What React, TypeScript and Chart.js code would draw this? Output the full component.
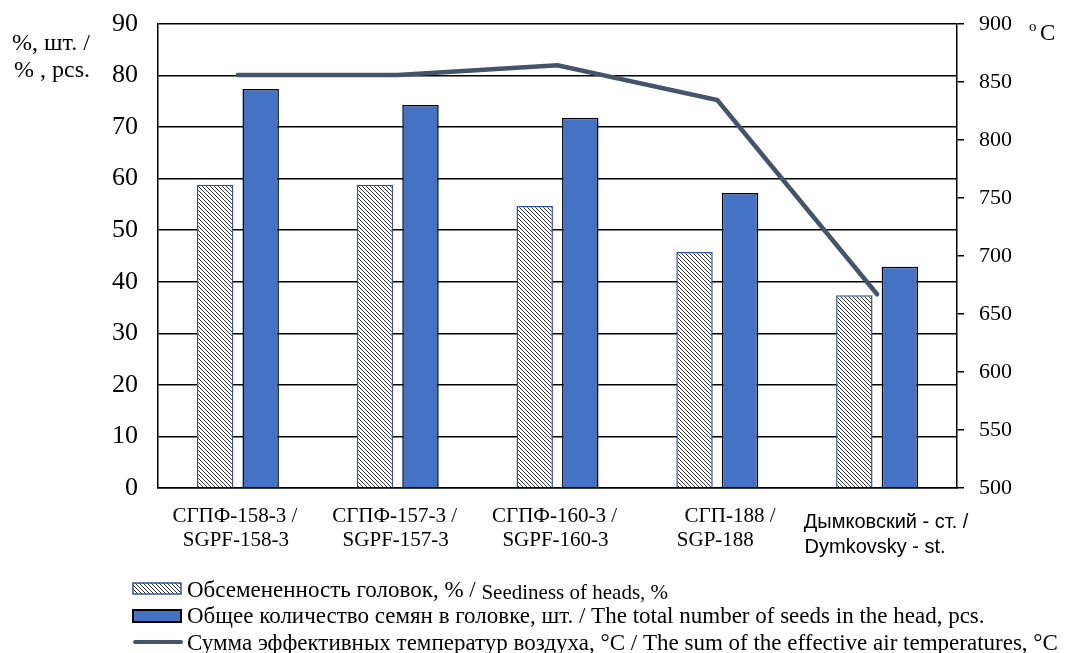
import React, { useEffect, useRef } from 'react';
import { Chart, registerables } from 'chart.js';

Chart.register(...registerables);

// ---- data ----
const labelLine1 = ['СГПФ-158-3 /', 'СГПФ-157-3 /', 'СГПФ-160-3 /', '      СГП-188 /', 'Дымковский - ст. /'];
const labelLine2 = ['SGPF-158-3', 'SGPF-157-3', 'SGPF-160-3', 'SGP-188', 'Dymkovsky - st.'];
const seediness = [58.8, 58.8, 54.7, 45.8, 37.4];
const seedsTotal = [77.4, 74.3, 71.8, 57.2, 42.9];
const effTemps = [856, 856, 864.5, 834.5, 667];
const leftAxis = { min: 0, max: 90, step: 10 };
const rightAxis = { min: 500, max: 900, step: 50 };
const leftTitle = ['%, шт. /', '% , pcs.'];
const rightUnit = ['o', 'C'];
const legendRu = ['Обсемененность головок, % / ', 'Общее количество семян в головке, шт. / ', 'Сумма эффективных температур воздуха, °C / '];
const legendEn = ['Seediness of heads, %', 'The total number of seeds in the head, pcs.', 'The sum of the effective air temperatures, °C'];

const SERIF = '"Liberation Serif", "Times New Roman", serif';
const SANS = '"Liberation Sans", Arial, sans-serif';
const SANS_LABEL_INDEX = 4;

function makeHatch(): CanvasPattern | string {
  const c = document.createElement('canvas');
  c.width = 4;
  c.height = 4;
  const g = c.getContext('2d');
  if (!g) return '#fff';
  g.fillStyle = '#ffffff';
  g.fillRect(0, 0, 4, 4);
  g.fillStyle = '#333333';
  for (let i = 0; i < 4; i++) g.fillRect(i, i, 1, 1);
  const p = g.createPattern(c, 'repeat');
  return p || '#fff';
}

const overlayPlugin = {
  id: 'overlay',
  afterDraw(chart: any) {
    const ctx = chart.ctx as CanvasRenderingContext2D;
    const x = chart.scales.x;
    ctx.save();
    ctx.fillStyle = '#000';
    ctx.textBaseline = 'alphabetic';

    // left axis title
    ctx.font = `24px ${SERIF}`;
    ctx.textAlign = 'left';
    ctx.fillText(leftTitle[0], 12, 50);
    ctx.fillText(leftTitle[1], 14, 77);

    // right unit
    ctx.font = `15px ${SERIF}`;
    ctx.fillText(rightUnit[0], 1029, 31);
    ctx.font = `23px ${SERIF}`;
    ctx.fillText(rightUnit[1], 1040, 40);

    // category labels
    ctx.textAlign = 'center';
    for (let i = 0; i < labelLine1.length; i++) {
      const cx = x.getPixelForValue(i);
      if (i === SANS_LABEL_INDEX) {
        ctx.font = `20px ${SANS}`;
        ctx.fillText(labelLine1[i], cx + 9, 528);
        ctx.fillText(labelLine2[i], cx - 2, 553);
      } else {
        ctx.font = `21px ${SERIF}`;
        ctx.fillText(labelLine1[i], cx - 3, 522);
        ctx.fillText(labelLine2[i], cx - 2, 546);
      }
    }

    // legend
    ctx.textAlign = 'left';
    const sx = 133, sw = 48, tx = 187;
    const pat = chart.data.datasets[0].backgroundColor;
    ctx.fillStyle = pat;
    ctx.fillRect(sx, 583, sw, 11);
    ctx.strokeStyle = '#2F5597';
    ctx.lineWidth = 1.5;
    ctx.strokeRect(sx, 583, sw, 11);
    ctx.fillStyle = '#4472C4';
    ctx.fillRect(sx, 610, sw, 12);
    ctx.strokeStyle = '#000';
    ctx.lineWidth = 2;
    ctx.strokeRect(sx, 610, sw, 12);
    ctx.strokeStyle = '#44546A';
    ctx.lineWidth = 4;
    ctx.lineCap = 'round';
    ctx.beginPath();
    ctx.moveTo(sx + 2, 642);
    ctx.lineTo(sx + sw, 642);
    ctx.stroke();

    ctx.fillStyle = '#000';
    const baselines = [597, 623, 650];
    for (let i = 0; i < 3; i++) {
      ctx.font = `23px ${SERIF}`;
      ctx.fillText(legendRu[i], tx, baselines[i]);
      const w = ctx.measureText(legendRu[i]).width;
      if (i === 0) {
        ctx.font = `21px ${SERIF}`;
        ctx.fillText(legendEn[i], tx + w, baselines[i] + 2);
      } else {
        ctx.fillText(legendEn[i], tx + w, baselines[i]);
      }
    }
    ctx.restore();
  },
};

export default function App() {
  const ref = useRef<HTMLCanvasElement | null>(null);

  useEffect(() => {
    if (!ref.current) return;
    const hatch = makeHatch();
    const chart = new Chart(ref.current, {
      type: 'bar',
      data: {
        labels: labelLine2,
        datasets: [
          {
            type: 'bar',
            label: legendRu[0] + legendEn[0],
            data: seediness,
            backgroundColor: hatch as any,
            borderColor: '#2F5597',
            borderWidth: 1.5,
            yAxisID: 'y',
            categoryPercentage: 0.57,
            barPercentage: 0.8,
            order: 2,
          },
          {
            type: 'bar',
            label: legendRu[1] + legendEn[1],
            data: seedsTotal,
            backgroundColor: '#4472C4',
            borderColor: '#000000',
            borderWidth: 1.5,
            yAxisID: 'y',
            categoryPercentage: 0.57,
            barPercentage: 0.8,
            order: 2,
          },
          {
            type: 'line',
            label: legendRu[2] + legendEn[2],
            data: effTemps,
            borderColor: '#44546A',
            backgroundColor: '#44546A',
            borderWidth: 4.5,
            borderCapStyle: 'round',
            borderJoinStyle: 'miter',
            pointRadius: 0,
            tension: 0,
            yAxisID: 'y1',
            order: 0,
          } as any,
        ],
      },
      options: {
        responsive: false,
        animation: false,
        devicePixelRatio: 1,
        layout: { padding: { top: 24, left: 0, right: 0, bottom: 0 } },
        plugins: { legend: { display: false }, tooltip: { enabled: false } },
        scales: {
          x: {
            grid: { display: false },
            border: { display: true, color: '#000', width: 1.5 },
            ticks: { display: false },
            afterFit: (s: any) => { s.height = 165; s.paddingLeft = 0; s.paddingRight = 0; },
          },
          y: {
            position: 'left',
            min: leftAxis.min,
            max: leftAxis.max,
            ticks: {
              stepSize: leftAxis.step,
              color: '#000',
              font: { family: SERIF, size: 26 },
              padding: 20,
            },
            grid: { color: '#000', lineWidth: 1.5, drawTicks: false },
            border: { display: true, color: '#000', width: 1.5 },
            afterFit: (s: any) => { s.width = 158; s.paddingTop = 0; s.paddingBottom = 0; },
          },
          y1: {
            position: 'right',
            min: rightAxis.min,
            max: rightAxis.max,
            ticks: {
              stepSize: rightAxis.step,
              color: '#000',
              font: { family: SERIF, size: 22 },
              padding: 15,
            },
            grid: { drawOnChartArea: false, drawTicks: true, tickLength: 7, color: '#000', lineWidth: 1.5 },
            border: { display: true, color: '#000', width: 1.5 },
            afterFit: (s: any) => { s.width = 112; s.paddingTop = 0; s.paddingBottom = 0; },
          },
        },
      },
      plugins: [overlayPlugin],
    });
    return () => chart.destroy();
  }, []);

  return (
    <div style={{ position: 'absolute', left: 0, top: 0, width: 1069, height: 653, background: '#fff' }}>
      <canvas ref={ref} width={1069} height={653} style={{ display: 'block' }} />
    </div>
  );
}
